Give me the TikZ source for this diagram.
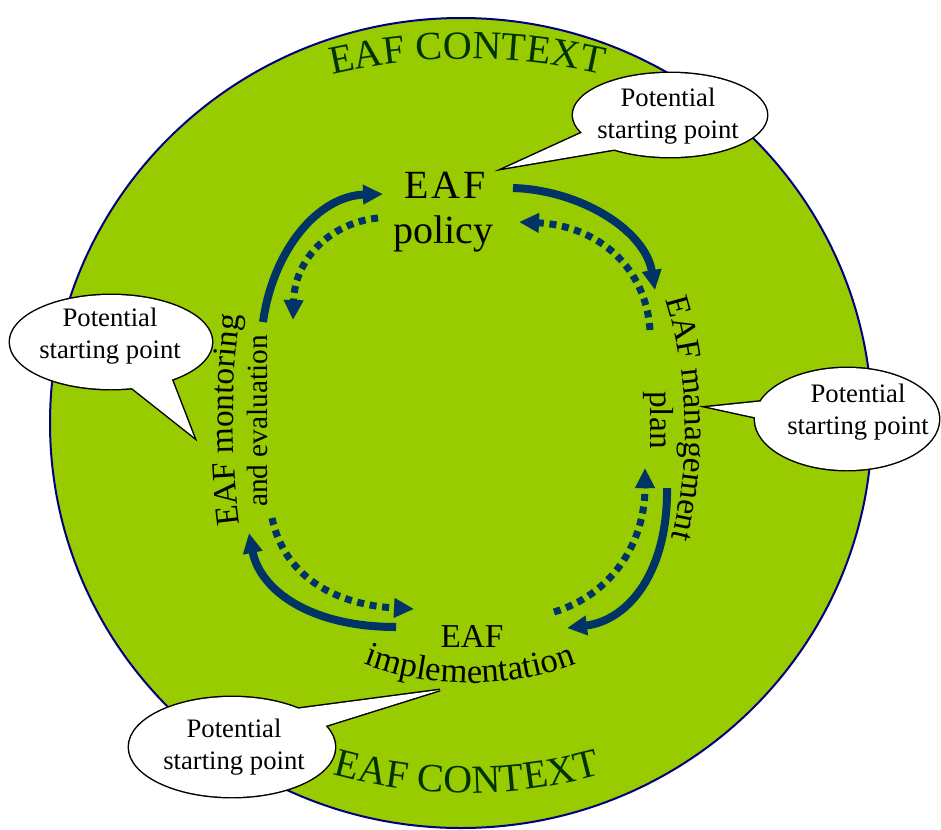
\documentclass[tikz,border=0pt]{standalone}
\usepackage{fontspec}
\setmainfont{Liberation Serif}
\usetikzlibrary{arrows.meta,decorations.text,calc}

\definecolor{ringgreen}{HTML}{99CC00}
\definecolor{ringedge}{HTML}{000080}
\definecolor{ctxgreen}{HTML}{003300}
\definecolor{cyclenavy}{HTML}{003366}

\newcommand\ctxfont{\fontsize{30}{32}\selectfont}
\newcommand\stagefont{\fontsize{25}{28}\selectfont}
\newcommand\implfont{\fontsize{26}{28}\selectfont}
\newcommand\policyfont{\fontsize{30}{34}\selectfont}
\newcommand\evalfont{\fontsize{22}{26}\selectfont}

\tikzset{
  flow/.style={draw=cyclenavy, line width=6pt, -{Triangle[length=15pt,width=14pt]}},
  backflow/.style={draw=cyclenavy, line width=5.25pt, dash pattern=on 5.25pt off 4.25pt,
    -{Triangle[length=15pt,width=14pt]}},
  calloutedge/.style={draw=black, line width=2.2pt, line join=miter},
  callouttext/.style={align=center, font=\fontsize{20}{24.5}\selectfont, inner sep=0pt},
  stage/.style={font=\stagefont, inner sep=0pt},
  curved/.style={decorate, decoration={text along path, text align=center, #1}},
}

\begin{document}
\begin{tikzpicture}[x=0.75pt, y=-0.75pt]
\useasboundingbox (0,0) rectangle (941,829);
\fill[white] (0,0) rectangle (941,829);

% context ring
\draw[draw=ringedge, fill=ringgreen, line width=1.5pt] (461,423) ellipse [x radius=411, y radius=405];

% curved context titles
\path[curved={text color=ctxgreen, text={|\ctxfont|EAF CONTEXT}}]
  (467,659) ++(-108:600) arc[start angle=-108, end angle=-72, radius=600];
\path[curved={text color=ctxgreen, text={|\ctxfont|EAF CONTEXT}}]
  (467,293) ++(108:500) arc[start angle=108, end angle=72, radius=500];

% stage labels
\node[inner sep=0pt, font=\policyfont\addfontfeature{LetterSpace=8}, anchor=base] (policyA) at (445,198) {EAF};
\node[inner sep=0pt, font=\policyfont, anchor=base] (policyB) at (443,243) {policy};

\path[curved={text={|\stagefont|EAF management}}]
  (240,430) ++(-21:445) arc[start angle=-21, end angle=18, radius=445];
\node[stage, rotate=-90, anchor=base] (plan) at (650,420) {plan};

\node[stage, anchor=base] (implA) at (472,647) {EAF};
\path[curved={text={|\implfont|implementation}}]
  (470,383) ++(120:300) arc[start angle=120, end angle=60, radius=300];

\path[curved={text={|\stagefont|EAF montoring}}]
  (1033,420) ++(167:800) arc[start angle=167, end angle=193, radius=800];
\node[inner sep=0pt, font=\evalfont, rotate=90, anchor=base] (evalB) at (267,421) {and evaluation};

% cycle arrows: solid forward, dotted backward
\coordinate (f1s) at (263,322); \coordinate (f1e) at (383,194);
\coordinate (b1s) at (378,218); \coordinate (b1e) at (293,320);
\coordinate (f2s) at (513,188); \coordinate (f2e) at (655,290);
\coordinate (b2s) at (650,330); \coordinate (b2e) at (519,222);
\coordinate (f3s) at (667,488); \coordinate (f3e) at (567,628);
\coordinate (b3s) at (554,612); \coordinate (b3e) at (645,468);
\coordinate (f4s) at (396,627); \coordinate (f4e) at (249,533);
\coordinate (b4s) at (272,518); \coordinate (b4e) at (414,609);

\draw[flow] (f1s) .. controls (273,250) and (318,196) .. (f1e);
\draw[backflow] (b1s) .. controls (335,222) and (295,255) .. (b1e);
\draw[flow] (f2s) .. controls (580,190) and (645,230) .. (f2e);
\draw[backflow] (b2s) .. controls (645,260) and (590,225) .. (b2e);
\draw[flow] (f3s) .. controls (668,570) and (630,620) .. (f3e);
\draw[backflow] (b3s) .. controls (610,595) and (645,545) .. (b3e);
\draw[flow] (f4s) .. controls (310,627) and (260,590) .. (f4e);
\draw[backflow] (b4s) .. controls (285,580) and (340,605) .. (b4e);

% callouts
\foreach \name/\cx/\cy/\rx/\ry/\aa/\ab/\tx/\ty/\lx/\ly in {
    ca/670/115/97/42/155/125/505/168/668/116,
    cb/111/342/101/47/78/53/194/437/110/336,
    cc/847/419/92/51/200/182/708/407/858/412,
    cd/232/747/103/50/-50/-25/440/690/234/747}{
  \coordinate (\name c) at (\cx,\cy);
  \coordinate (\name t) at (\tx,\ty);
  \coordinate (\name a) at ($(\name c)+({\rx*cos(\aa)},{\ry*sin(\aa)})$);
  \coordinate (\name b) at ($(\name c)+({\rx*cos(\ab)},{\ry*sin(\ab)})$);
  \draw[calloutedge] (\name a) -- (\name t) -- (\name b);
  \draw[calloutedge] (\name c) ellipse [x radius=\rx, y radius=\ry];
  \fill[white] (\name a) -- (\name t) -- (\name b) -- cycle;
  \fill[white] (\name c) ellipse [x radius=\rx, y radius=\ry];
  \node[callouttext] (\name) at (\lx,\ly) {Potential\\starting point};
}
\end{tikzpicture}
\end{document}
